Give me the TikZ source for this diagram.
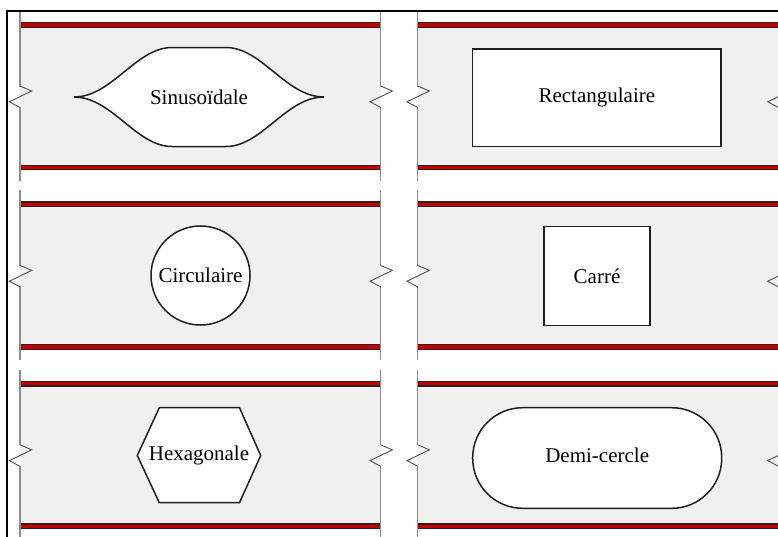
\documentclass[tikz,border=0pt]{standalone}
\usepackage{fontspec}
\setmainfont{Liberation Serif}
\definecolor{panelgray}{RGB}{240,240,240}
\definecolor{barred}{RGB}{192,0,0}
\definecolor{bardark}{RGB}{50,30,30}
\definecolor{edgegray}{RGB}{140,140,140}
\definecolor{ziggray}{RGB}{80,80,80}
\begin{document}
\begin{tikzpicture}[x=1pt,y=-1pt,
  shapeline/.style={draw=black!88, line width=1.5pt, fill=white},
  shapebox/.style={shapeline, inner sep=0pt, font=\fontsize{21}{25}\selectfont},
  label/.style={inner sep=0pt, font=\fontsize{21}{25}\selectfont},
  redbar/.style={fill=barred, draw=bardark, line width=1.3pt},
  edgeline/.style={draw=edgegray, line width=1.4pt},
  zigline/.style={draw=ziggray, line width=0.9pt, line join=miter}]
\useasboundingbox (0,0) rectangle (778,536);
\clip (0,0) rectangle (778,536);
\fill[white] (0,0) rectangle (778,536);
% panels
\foreach \T in {22,201.4,380.8} {
  \foreach \L in {20,417.7} {
    \pgfmathsetmacro\R{\L+360.7}
    \pgfmathsetmacro\C{\T+74.5}
    \fill[panelgray] (\L,\T) rectangle (\R,{\T+148.5});
    \draw[redbar] (\L,{\T+0.7}) rectangle (\R,{\T+5.3});
    \draw[redbar] (\L,{\T+143.2}) rectangle (\R,{\T+147.8});
    \foreach \E in {\L,\R} {
      \draw[edgeline] (\E,{\T-11}) -- (\E,{\C-10});
      \draw[edgeline] (\E,{\C+10.5}) -- (\E,{\T+159});
      \draw[zigline] (\E,{\C-10.5}) -- ({\E+11.7},{\C-5.5}) -- ({\E-10.7},{\C+5.3}) -- (\E,{\C+11});
    }
  }
}
% left column shapes
\draw[shapeline] (74,97) .. controls (112,97) and (136,47.5) .. (172,47.5)
  -- (226,47.5) .. controls (262,47.5) and (286,97) .. (324,97)
  .. controls (286,97) and (262,146.5) .. (226,146.5)
  -- (172,146.5) .. controls (136,146.5) and (112,97) .. (74,97) -- cycle;
\node[label] (sinus) at (199,97) {Sinusoïdale};
\node[shapebox, circle, minimum size=99pt] (circ) at (200.5,275.5) {Circulaire};
\draw[shapeline] (137.3,455.5) -- (159.3,407.7) -- (239.5,407.7) -- (260.7,455.5)
  -- (239.5,502.7) -- (159.3,502.7) -- cycle;
\node[label] (hexa) at (199,455.5) {Hexagonale};
% right column shapes
\node[shapebox, rectangle, minimum width=248.3pt, minimum height=97.7pt] (rect) at (596.85,97.85) {Rectangulaire};
\node[shapebox, rectangle, minimum width=106pt, minimum height=98.6pt] (carre) at (597,276) {Carré};
\node[shapebox, rectangle, rounded corners=50pt, minimum width=249pt, minimum height=100.6pt] (demi) at (597.2,458) {};
\node[label] (demilabel) at (597.2,455) {Demi-cercle};
% outer frame
\draw[black, line width=2pt] (7,11) rectangle (800,560);
\end{tikzpicture}
\end{document}
